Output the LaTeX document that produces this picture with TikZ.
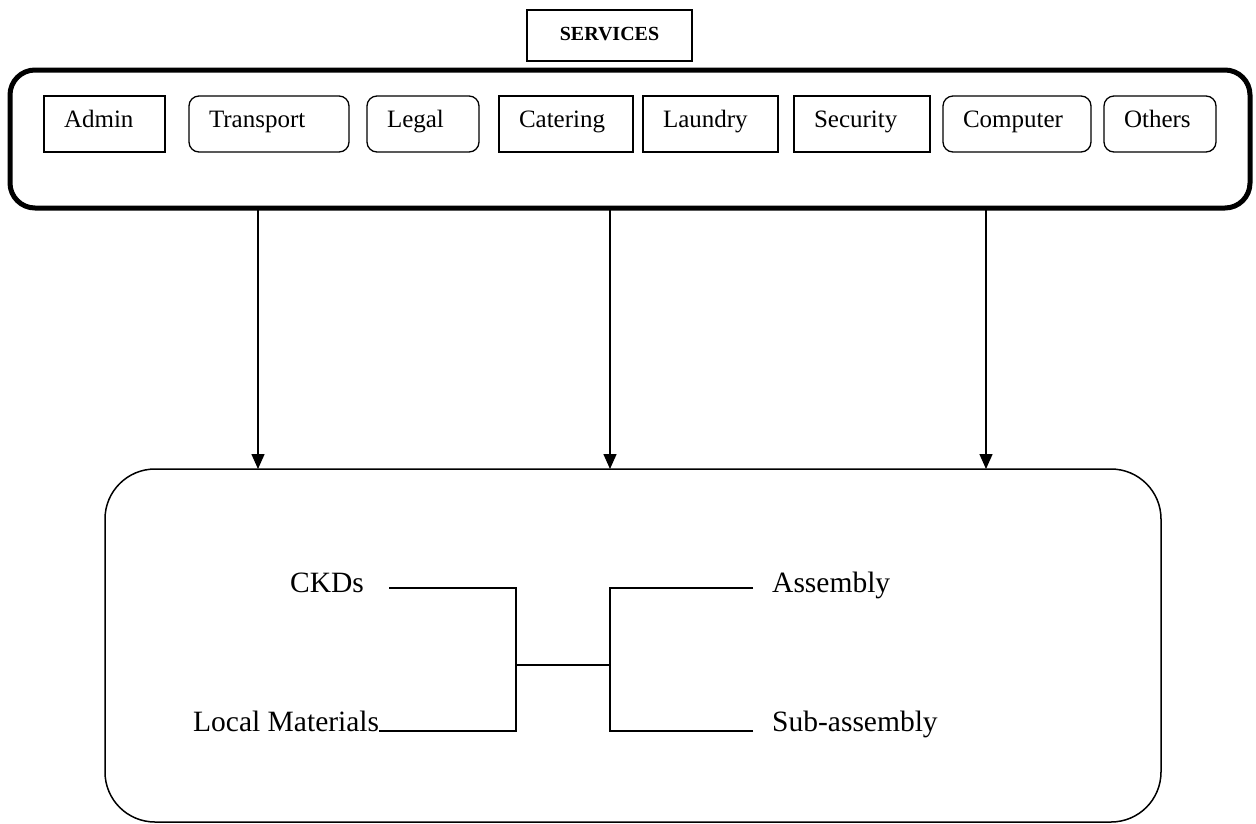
\documentclass[tikz,border=0pt]{standalone}
\usepackage{fontspec}
\setmainfont{Liberation Serif}
\usetikzlibrary{arrows.meta}

\tikzset{
  unitbox/.style={draw, line width=1.3pt, anchor=west, align=left, inner xsep=20pt,
    outer sep=0pt, minimum height=56pt, text height=17pt, text depth=10pt,
    font=\fontsize{25}{30}\selectfont},
  unitround/.style={unitbox, rounded corners=10pt},
  flowlabel/.style={inner sep=0pt, anchor=base west, font=\fontsize{29.5}{35}\selectfont},
  flowline/.style={line width=1.5pt},
  feed/.style={line width=1.5pt, -{Triangle[length=15pt,width=13pt]}}
}

\begin{document}
\begin{tikzpicture}[x=1pt, y=-1pt]
\useasboundingbox (0,0) rectangle (1256,823);

\node[draw, line width=1.3pt, minimum width=165pt, minimum height=51pt, text height=14pt, text depth=5pt,
  font=\fontsize{20}{24}\selectfont\bfseries] (title) at (609.5,35.5) {SERVICES};

\node[draw, line width=5pt, rounded corners=25pt, minimum width=1240pt, minimum height=138pt,
  outer sep=0pt] (band) at (630,139) {};% services band

\node[unitbox, text width=81pt] (admin) at (44,124) {Admin};
\node[unitround, text width=120pt] (transport) at (189,124) {Transport};
\node[unitround, text width=72pt] (legal) at (367,124) {Legal};
\node[unitbox, text width=94pt] (catering) at (499,124) {Catering};
\node[unitbox, text width=95pt] (laundry) at (643,124) {Laundry};
\node[unitbox, text width=96pt] (security) at (794,124) {Security};
\node[unitround, text width=108pt] (computer) at (943,124) {Computer};
\node[unitround, text width=72pt] (others) at (1104,124) {Others};

\node[draw, line width=1.5pt, rounded corners=50pt, minimum width=1056pt, minimum height=353pt,
  outer sep=0pt] (plant) at (633,645.5) {};% production

\coordinate (ax1) at (258,0);
\coordinate (ax2) at (610,0);
\coordinate (ax3) at (986,0);
\draw[feed] (ax1 |- band.south) -- (ax1 |- plant.north);
\draw[feed] (ax2 |- band.south) -- (ax2 |- plant.north);
\draw[feed] (ax3 |- band.south) -- (ax3 |- plant.north);

\node[flowlabel] (ckd) at (290,592) {CKDs};
\node[flowlabel] (local) at (193,731) {Local Materials};
\node[flowlabel] (asm) at (772,592) {Assembly};
\node[flowlabel] (subasm) at (772,731) {Sub-assembly};

\coordinate (jin) at (516,665);
\coordinate (jout) at (610,665);
\draw[flowline] ([xshift=25pt,yshift=4pt]ckd.base east) -| (jin);
\draw[flowline] (local.base east) -| (jin);
\draw[flowline] (jin) -- (jout);
\draw[flowline] ([xshift=-19pt,yshift=4pt]asm.base west) -| (jout);
\draw[flowline] ([xshift=-19pt]subasm.base west) -| (jout);
\end{tikzpicture}
\end{document}
